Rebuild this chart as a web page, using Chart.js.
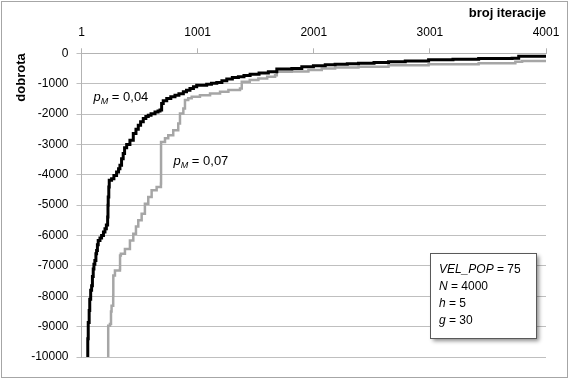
<!DOCTYPE html>
<html><head><meta charset="utf-8">
<script src="https://cdn.jsdelivr.net/npm/chart.js@4/dist/chart.umd.min.js"></script>
<style>html,body{margin:0;padding:0;background:#fff;}canvas{display:block;}</style>
</head><body>
<canvas id="c" width="569" height="379"></canvas>
<script>
// ---- data ----
const xTickValues = [1, 1001, 2001, 3001, 4001];
const yTickMin = -10000, yTickMax = 0, yTickStep = 1000;
const xTitle = 'broj iteracije';
const yTitle = 'dobrota';

// p_M = 0,04 (black)
const iterA = [50,55,59,67,72,80,88,95,102,108,116,125,131,138,145,160,174,190,203,215,226,229,231,236,240,260,280,303,320,332,346,360,372,390,418,447,470,490,510,533,555,576,600,634,660,677,691,705,735,770,806,840,878,905,935,965,993,1079,1120,1166,1210,1252,1300,1352,1400,1453,1530,1610,1683,1812,1898,1998,2100,2185,2290,2386,2520,2645,2789,2990,3200,3421,3709,3766,4001];
const fitA  = [-10000,-9400,-8860,-8470,-8100,-7800,-7650,-7350,-7100,-6950,-6820,-6600,-6490,-6300,-6160,-6080,-6000,-5880,-5780,-5650,-5390,-5000,-4730,-4400,-4180,-4130,-4020,-3910,-3800,-3690,-3470,-3300,-3110,-3000,-2860,-2640,-2500,-2370,-2250,-2150,-2080,-2040,-1990,-1930,-1900,-1870,-1650,-1560,-1490,-1430,-1380,-1330,-1270,-1220,-1160,-1100,-1050,-1020,-990,-960,-900,-850,-800,-770,-730,-690,-650,-610,-520,-500,-440,-410,-380,-360,-345,-330,-300,-280,-250,-215,-195,-170,-165,-100,-100];

// p_M = 0,07 (grey)
const iterB = [226,231,246,255,260,274,275,289,332,333,340,375,418,447,470,490,519,547,576,605,648,685,686,720,748,791,834,849,878,892,920,950,1021,1108,1194,1266,1366,1381,1450,1524,1600,1668,1683,1812,1955,2070,2185,2386,2645,2990,3421,3737,3795,4001];
const fitB  = [-10000,-8970,-8910,-8500,-8310,-7980,-7320,-7150,-7100,-6660,-6600,-6440,-6160,-5940,-5700,-5500,-5280,-4950,-4730,-4510,-4400,-4290,-2920,-2800,-2700,-2530,-2310,-1980,-1820,-1540,-1480,-1430,-1380,-1320,-1270,-1210,-1160,-940,-880,-830,-770,-720,-610,-600,-550,-500,-470,-440,-390,-360,-330,-280,-250,-260];

const infoLines = [
  [['VEL_POP', true], [' = 75', false]],
  [['N', true], [' = 4000', false]],
  [['h', true], [' = 5', false]],
  [['g', true], [' = 30', false]]
];

const toPts = (xs, ys) => xs.map((x, i) => ({x: x, y: ys[i]}));
fitB[fitB.length-1] = fitB[fitB.length-2];

const FONT = '"Liberation Sans", Arial, sans-serif';

const deco = {
  id: 'deco',
  afterDraw(chart) {
    const ctx = chart.ctx;
    const ca = chart.chartArea;
    ctx.save();
    // outer border
    ctx.strokeStyle = '#a6a6a6';
    ctx.lineWidth = 1;
    ctx.strokeRect(1.5, 1.5, 566, 376);

    // series labels
    function pm(x, y, rest) {
      ctx.fillStyle = '#000';
      ctx.textBaseline = 'alphabetic';
      ctx.textAlign = 'left';
      ctx.font = 'italic 13px ' + FONT;
      ctx.fillText('p', x, y);
      let w = ctx.measureText('p').width;
      ctx.font = 'italic 9px ' + FONT;
      ctx.fillText('M', x + w, y + 3);
      w += ctx.measureText('M').width;
      ctx.font = '13px ' + FONT;
      ctx.fillText(rest, x + w, y);
    }
    pm(ca.left + 12, ca.top + 48, ' = 0,04');
    pm(ca.left + 92, ca.top + 112, ' = 0,07');

    // info box
    const bx = 430.5, by = 253.5, bw = 106, bh = 85;
    ctx.save();
    ctx.shadowColor = 'rgba(0,0,0,0.45)';
    ctx.shadowBlur = 4;
    ctx.shadowOffsetX = 2;
    ctx.shadowOffsetY = 2;
    ctx.fillStyle = '#fff';
    ctx.fillRect(bx, by, bw, bh);
    ctx.restore();
    ctx.strokeStyle = '#595959';
    ctx.lineWidth = 1;
    ctx.strokeRect(bx, by, bw, bh);
    ctx.fillStyle = '#000';
    infoLines.forEach((parts, i) => {
      let x = 439;
      const y = 273 + i * 17;
      parts.forEach(([t, it]) => {
        ctx.font = (it ? 'italic ' : '') + '12px ' + FONT;
        ctx.fillText(t, x, y);
        x += ctx.measureText(t).width;
      });
    });
    ctx.restore();
  }
};

new Chart(document.getElementById('c'), {
  type: 'line',
  data: {
    datasets: [
      { label: 'p_M = 0,04', data: toPts(iterA, fitA), borderColor: '#000000', borderWidth: 3, stepped: 'before', pointRadius: 0, fill: false },
      { label: 'p_M = 0,07', data: toPts(iterB, fitB), borderColor: '#a6a6a6', borderWidth: 2.5, stepped: 'before', pointRadius: 0, fill: false }
    ]
  },
  options: {
    responsive: false,
    animation: false,
    events: [],
    layout: { padding: { left: 8, top: 3, right: 23, bottom: 22 } },
    plugins: { legend: { display: false }, tooltip: { enabled: false } },
    scales: {
      x: {
        type: 'linear', position: 'top', min: 1, max: 4001,
        afterBuildTicks: s => { s.ticks = xTickValues.map(v => ({ value: v })); },
        afterFit: s => { s.height = 50.3; },
        ticks: { color: '#000', font: { family: FONT, size: 12 }, padding: 8, autoSkip: false, maxRotation: 0, callback: v => String(v) },
        grid: { drawOnChartArea: false, drawTicks: true, tickLength: 5, color: '#b3b3b3' },
        border: { display: true, color: '#b3b3b3' },
        title: { display: true, text: xTitle, align: 'end', color: '#000', font: { family: FONT, size: 13, weight: 'bold' }, padding: { top: 3, bottom: 0 } }
      },
      y: {
        type: 'linear', min: yTickMin, max: yTickMax,
        afterFit: s => { s.width = 73.5; },
        ticks: { stepSize: yTickStep, color: '#000', font: { family: FONT, size: 12 }, padding: 8, callback: v => String(v) },
        grid: { color: '#bfbfbf', tickLength: 5 },
        border: { display: true, color: '#b3b3b3' },
        title: { display: true, text: yTitle, align: 'end', color: '#000', font: { family: FONT, size: 13, weight: 'bold' }, padding: { top: 6, bottom: 0 } }
      }
    }
  },
  plugins: [deco]
});
</script>
</body></html>
